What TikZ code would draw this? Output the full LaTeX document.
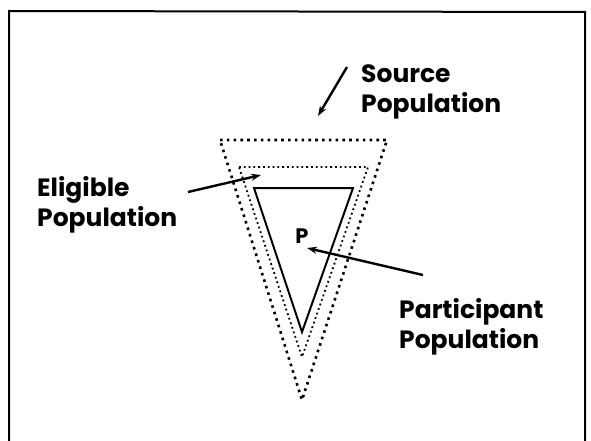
\documentclass[tikz,border=0pt]{standalone}
\usepackage{fontspec}
\setmainfont{Poppins}
\usetikzlibrary{arrows.meta}
\begin{document}
\begin{tikzpicture}[x=1pt,y=-1pt,
  lbl/.style={font=\fontsize{25}{30}\selectfont\bfseries, align=left, anchor=north west, inner sep=0pt},
  outerdots/.style={line width=2.6pt, dash pattern=on 2.6pt off 4.2pt},
  innerdots/.style={line width=1.8pt, dash pattern=on 1.8pt off 3pt},
  solidtri/.style={line width=2pt, line join=miter},
  pointer/.style={line width=2.4pt, -{Stealth[length=10pt,width=7pt,fill=gray!70]}},
  frame/.style={line width=2pt}]
\useasboundingbox (0,0) rectangle (591,441);
% frame
\coordinate (fbl) at (9,445);
\coordinate (ftl) at (9,11);
\coordinate (ftr) at (585,12);
\coordinate (fbr) at (585,445);
\draw[frame] (fbl) -- (ftl) -- (ftr) -- (fbr);
% triangles
\coordinate (o1) at (220,140); \coordinate (o2) at (387,140); \coordinate (o3) at (302,400);
\coordinate (m1) at (239,167); \coordinate (m2) at (368,167); \coordinate (m3) at (302,357);
\coordinate (s1) at (254,188); \coordinate (s2) at (353,188); \coordinate (s3) at (302,332);
\draw[outerdots] (o1) -- (o2) -- (o3) -- cycle;
\draw[innerdots] (m1) -- (m2) -- (m3) -- cycle;
\draw[solidtri] (s1) -- (s2) -- (s3) -- cycle;
\node[font=\fontsize{21}{21}\selectfont\bfseries, inner sep=0pt] (P) at (302,236) {P};
% labels
\node[lbl] (src) at (361,65) {Source\\Population};
\node[lbl] (elig) at (37,176) {Eligible\\Population};
\node[lbl] (part) at (399,298) {Participant\\Population};
% arrows
\coordinate (a1s) at (347,67); \coordinate (a1e) at (318,116);
\coordinate (a2s) at (188,192); \coordinate (a2e) at (261,175);
\coordinate (a3s) at (423,275); \coordinate (a3e) at (307,248);
\draw[pointer] (a1s) -- (a1e);
\draw[pointer] (a2s) -- (a2e);
\draw[pointer] (a3s) -- (a3e);
\end{tikzpicture}
\end{document}
